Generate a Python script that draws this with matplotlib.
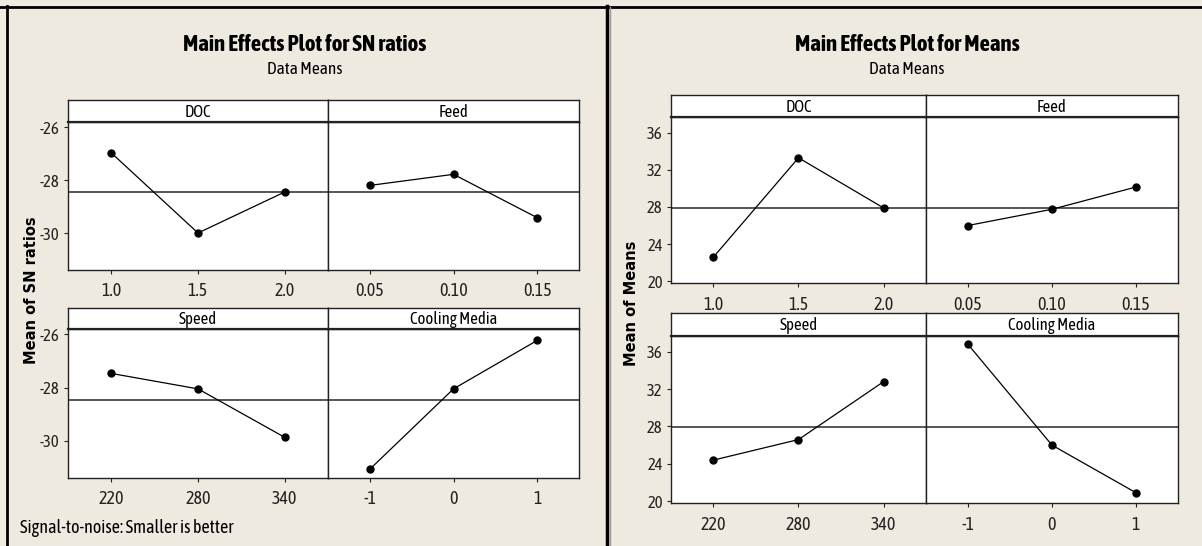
import numpy as np
import matplotlib
matplotlib.use("Agg")
import matplotlib.pyplot as plt
from matplotlib.lines import Line2D

plt.rcParams['font.family'] = ['Asap Condensed', 'DejaVu Sans']

# ---- data ----
factors = ["DOC", "Feed", "Speed", "Cooling Media"]
doc_levels = ["1.0", "1.5", "2.0"]
feed_levels = ["0.05", "0.10", "0.15"]
speed_levels = ["220", "280", "340"]
cool_levels = ["-1", "0", "1"]

sn_doc = [-26.97, -30.00, -28.45]
sn_feed = [-28.20, -27.78, -29.42]
sn_speed = [-27.47, -28.05, -29.87]
sn_cool = [-31.07, -28.05, -26.23]

mean_doc = [22.6, 33.3, 27.9]
mean_feed = [26.0, 27.75, 30.15]
mean_speed = [24.4, 26.6, 32.8]
mean_cool = [36.8, 26.0, 20.9]

sn_yticks = [-26, -28, -30]
mean_yticks = [20, 24, 28, 32, 36]

BG = "#EEEAE0"
W, H = 1202, 546
fig = plt.figure(figsize=(W / 100, H / 100), dpi=100)
fig.patch.set_facecolor(BG)


def rect(x0, x1, ytop, ybot):
    return [x0 / W, 1 - ybot / H, (x1 - x0) / W, (ybot - ytop) / H]


def panel(x0, x1, strip_top, plot_top, plot_bot, title, levels, values, ylim, yticks, refmean, show_y):
    ax = fig.add_axes(rect(x0, x1, plot_top, plot_bot))
    ax.set_facecolor("white")
    xs = np.arange(len(levels))
    ax.plot(xs, values, color="black", lw=0.9, marker="o", ms=5, mfc="black", mec="black", zorder=3)
    ax.axhline(refmean, color="#555555", lw=1.4, zorder=2)
    ax.set_xlim(-0.5, len(levels) - 0.5)
    ax.set_ylim(*ylim)
    ax.set_xticks(xs)
    ax.set_xticklabels(levels, fontsize=13)
    ax.set_yticks(yticks)
    ax.set_yticklabels([str(t) for t in yticks], fontsize=12)
    ax.tick_params(direction="out", length=3, width=0.8, pad=3, colors="#222222")
    ax.tick_params(axis="x", pad=6)
    if not show_y:
        ax.tick_params(axis="y", left=False, labelleft=False)
    for s in ax.spines.values():
        s.set_color("#222222")
        s.set_linewidth(1.0)
    sax = fig.add_axes(rect(x0, x1, strip_top, plot_top))
    sax.set_facecolor("white")
    sax.set_xticks([])
    sax.set_yticks([])
    for s in sax.spines.values():
        s.set_color("#222222")
        s.set_linewidth(1.0)
    sax.spines["bottom"].set_linewidth(1.6)
    sax.text(0.5, 0.45, title, ha="center", va="center", fontsize=12, transform=sax.transAxes)
    return ax


def chart(cx0, cmid, cx1, rows, data, levels, ylim, yticks):
    allvals = np.concatenate([np.asarray(v) for v in data])
    ref = float(np.mean(allvals))
    k = 0
    for (st, pt, pb) in rows:
        for j, (a, b) in enumerate([(cx0, cmid), (cmid, cx1)]):
            panel(a, b, st, pt, pb, factors[k], levels[k], data[k], ylim, yticks, ref, j == 0)
            k += 1


levels_all = [doc_levels, feed_levels, speed_levels, cool_levels]

# Left chart: SN ratios
chart(68, 328, 579, [(100, 122, 270), (308, 329, 478)],
      [sn_doc, sn_feed, sn_speed, sn_cool], levels_all, (-31.4, -25.8), sn_yticks)

# Right chart: Means
chart(671, 926, 1178, [(95, 117, 283), (313, 336, 503)],
      [mean_doc, mean_feed, mean_speed, mean_cool], levels_all, (19.8, 37.7), mean_yticks)

# Titles
fig.text(305 / W, 1 - 45 / H, "Main Effects Plot for SN ratios", ha="center", va="center",
         fontsize=16.5, fontweight="bold")
fig.text(305 / W, 1 - 69 / H, "Data Means", ha="center", va="center", fontsize=12.5)
fig.text(907 / W, 1 - 45 / H, "Main Effects Plot for Means", ha="center", va="center",
         fontsize=16.5, fontweight="bold")
fig.text(907 / W, 1 - 69 / H, "Data Means", ha="center", va="center", fontsize=12.5)

fig.text(32 / W, 1 - 290 / H, "Mean of SN ratios", ha="center", va="center", rotation=90,
         fontsize=10.5, fontweight="bold", family=["DejaVu Sans"])
fig.text(632 / W, 1 - 303 / H, "Mean of Means", ha="center", va="center", rotation=90,
         fontsize=10.5, fontweight="bold", family=["DejaVu Sans"])

fig.text(20 / W, 1 - 528 / H, "Signal-to-noise: Smaller is better", ha="left", va="center", fontsize=13)

# Borders
fig.add_artist(Line2D([0, 1], [1 - 6.5 / H, 1 - 6.5 / H], color="black", lw=2, transform=fig.transFigure))
fig.add_artist(Line2D([7 / W, 7 / W], [0, 1 - 6 / H], color="black", lw=2, transform=fig.transFigure))
fig.add_artist(Line2D([607 / W, 607 / W], [0, 1 - 6 / H], color="black", lw=2.5, transform=fig.transFigure))
fig.add_artist(Line2D([609.5 / W, 609.5 / W], [0, 1 - 7 / H], color="#9a9a9a", lw=1, transform=fig.transFigure))

fig.savefig("out.png", dpi=100, facecolor=BG)
